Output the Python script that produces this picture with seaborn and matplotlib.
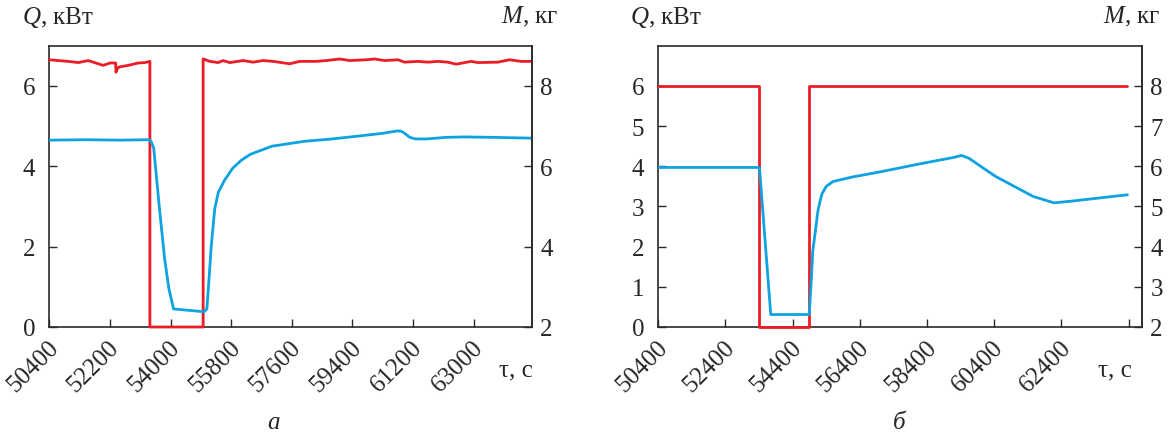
import matplotlib
matplotlib.use("Agg")
import matplotlib.pyplot as plt
import matplotlib.transforms as mtrans
import seaborn as sns
import numpy as np

# ---------------- data ----------------
# Panel a: Q (kW, left axis, red) and M (kg, right axis, blue)
a_q_time = [50400, 50667, 50963, 51260, 51556, 51853, 52001, 52200, 52369, 52380, 52398, 52467,
            52742, 53039, 53238, 53386, 53386, 54967, 54967, 55165, 55411, 55559, 55758, 56152,
            56449, 56745, 57042, 57537, 57834, 58328, 58625, 59020, 59316, 59811, 60057, 60354,
            60748, 60947, 61341, 61637, 61934, 62230, 62479, 62924, 63120, 63713, 64060, 64407,
            64720]
a_q_val = [6.65, 6.63, 6.61, 6.58, 6.63, 6.55, 6.51, 6.57, 6.57, 6.34, 6.40, 6.47,
           6.51, 6.57, 6.58, 6.61, 0.0, 0.0, 6.67, 6.61, 6.58, 6.63, 6.58, 6.63,
           6.59, 6.63, 6.61, 6.55, 6.61, 6.61, 6.63, 6.67, 6.63, 6.65, 6.67, 6.63,
           6.65, 6.59, 6.61, 6.59, 6.61, 6.59, 6.54, 6.61, 6.58, 6.59, 6.65, 6.61,
           6.61]
a_m_time = [50400, 51500, 52500, 53345, 53420, 53500, 53664, 53823, 53950, 54089, 54993, 55078,
            55150, 55206, 55312, 55418, 55600, 55843, 56100, 56375, 57013, 57970, 58800, 59565,
            60300, 60735, 60850, 60947, 61100, 61266, 61600, 62200, 62754, 63500, 64720]
a_m_val = [6.65, 6.66, 6.65, 6.66, 6.62, 6.45, 5.00, 3.70, 2.95, 2.45, 2.38, 2.45,
           3.30, 4.00, 4.95, 5.35, 5.65, 5.95, 6.15, 6.30, 6.50, 6.62, 6.68, 6.75,
           6.82, 6.88, 6.87, 6.82, 6.72, 6.68, 6.68, 6.72, 6.73, 6.72, 6.70]

# Panel б
b_q_time = [50400, 53389, 53389, 54872, 54872, 64366]
b_q_val = [6.0, 6.0, 0.0, 0.0, 6.0, 6.0]
b_m_time = [50400, 53412, 53748, 54894, 54950, 55000, 55063, 55153, 55265, 55400, 55602, 56164,
            57063, 58187, 59198, 59422, 59647, 60434, 61557, 62175, 62681, 64366]
b_m_val = [5.97, 5.97, 2.31, 2.31, 3.10, 3.90, 4.30, 4.90, 5.30, 5.50, 5.62, 5.73,
           5.87, 6.06, 6.22, 6.27, 6.20, 5.75, 5.25, 5.09, 5.13, 5.29]

a_xticks = [50400, 52200, 54000, 55800, 57600, 59400, 61200, 63000]
b_xticks = [50400, 52400, 54400, 56400, 58400, 60400, 62400, 64400]
b_xticklabels = ["50400", "52400", "54400", "56400", "58400", "60400", "62400", ""]
a_yticks_left = [0, 2, 4, 6]
a_yticks_right = [2, 4, 6, 8]
b_yticks_left = [0, 1, 2, 3, 4, 5, 6]
b_yticks_right = [2, 3, 4, 5, 6, 7, 8]

RED = "#ec1c24"
BLUE = "#0ea2e0"
SPINE = "#2a2a2a"

sns.set_style("ticks")
plt.rcParams["font.family"] = ["Liberation Serif", "DejaVu Serif"]
plt.rcParams["mathtext.fontset"] = "custom"
plt.rcParams["mathtext.it"] = "Liberation Serif:italic"
plt.rcParams["mathtext.rm"] = "Liberation Serif"
FS = 18

W, H = 1169, 435
fig = plt.figure(figsize=(W / 100, H / 100), dpi=100)


def px_axes(l, r, t, b):
    return [l / W, (H - b) / H, (r - l) / W, (b - t) / H]


def style(ax, ax2, xlim, xticks, xticklabels, yl, yr):
    ax.set_xlim(*xlim)
    ax.set_ylim(0, 7)
    ax2.set_ylim(2, 9)
    ax.set_xticks(xticks)
    ax.set_xticklabels(xticklabels, rotation=45, ha="right", va="center",
                       rotation_mode="anchor", fontsize=FS)
    ax.set_yticks(yl)
    ax.set_yticklabels([str(v) for v in yl], fontsize=FS)
    ax2.set_yticks(yr)
    ax2.set_yticklabels([str(v) for v in yr], fontsize=FS)
    ax.tick_params(axis="x", direction="in", length=6, width=1, color=SPINE, pad=12)
    ax.tick_params(axis="y", direction="in", length=6, width=1, color=SPINE, pad=10)
    ax2.tick_params(axis="y", direction="in", length=6, width=1, color=SPINE, pad=6)
    for name, s in ax.spines.items():
        s.set_visible(True)
        s.set_color(SPINE)
        s.set_linewidth(1.2)
        s.set_zorder(1)
    for name, s in ax2.spines.items():
        s.set_visible(name == "right")
        s.set_color(SPINE)
        s.set_linewidth(1.2)
    ax.set_xlabel("")
    ax.set_ylabel("")
    ax2.set_ylabel("")
    off = mtrans.ScaledTranslation(6 / 100, 0, fig.dpi_scale_trans)
    for lab in ax.get_xticklabels():
        lab.set_transform(lab.get_transform() + off)


def panel(rect, qt, qv, mt, mv, xlim, xticks, xticklabels, yl, yr):
    ax = fig.add_axes(rect)
    ax2 = ax.twinx()
    sns.lineplot(x=qt, y=qv, ax=ax, color=RED, lw=2.0, estimator=None, sort=False)
    sns.lineplot(x=mt, y=mv, ax=ax2, color=BLUE, lw=2.0, estimator=None, sort=False)
    for ln in ax.lines:
        ln.set_clip_on(False)
        ln.set_zorder(3)
    style(ax, ax2, xlim, xticks, xticklabels, yl, yr)
    return ax, ax2


panel(px_axes(49.3, 531.7, 46.7, 328), a_q_time, a_q_val, a_m_time, a_m_val,
      (50400, 64720), a_xticks, [str(v) for v in a_xticks], a_yticks_left, a_yticks_right)
panel(px_axes(658.3, 1142, 46.7, 328), b_q_time, b_q_val, b_m_time, b_m_val,
      (50400, 64800), b_xticks, b_xticklabels, b_yticks_left, b_yticks_right)


def ftext(x, y, s, **kw):
    fig.text(x / W, 1 - y / H, s, fontsize=FS, **kw)


# axis titles
ftext(22, 17, r"$\mathit{Q}$, кВт", ha="left", va="center")
ftext(558, 17, r"$\mathit{M}$, кг", ha="right", va="center")
ftext(630, 17, r"$\mathit{Q}$, кВт", ha="left", va="center")
ftext(1160, 17, r"$\mathit{M}$, кг", ha="right", va="center")
ftext(533, 370, "τ, с", ha="right", va="center")
ftext(1132, 370, "τ, с", ha="right", va="center")
ftext(274, 423, "а", ha="center", va="center", style="italic")
ftext(899, 423, "б", ha="center", va="center", style="italic")

fig.savefig("out.png", dpi=100)
